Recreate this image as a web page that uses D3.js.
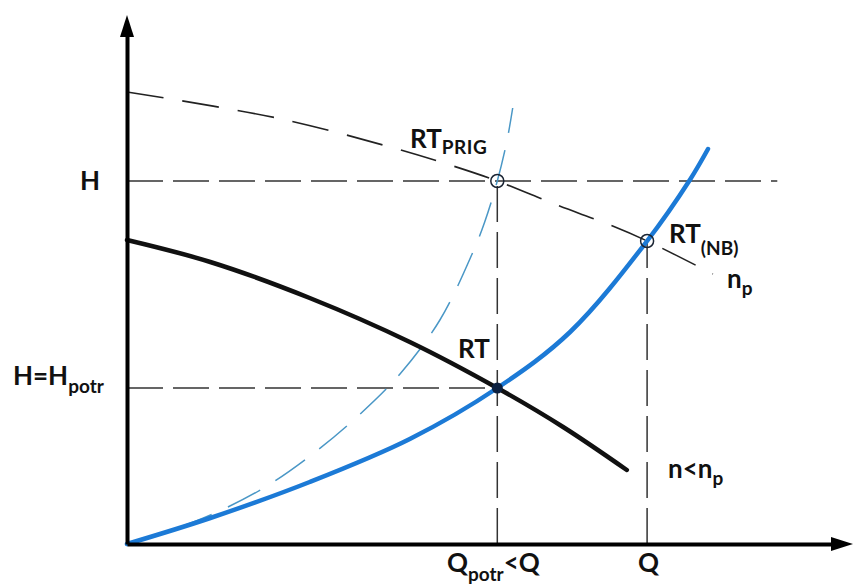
<!DOCTYPE html>
<html>
<head>
<meta charset="utf-8">
<script src="https://cdn.jsdelivr.net/npm/d3@7"></script>
<style>
	body { margin: 0; background: #fff; }
	text { font-family: Lato, "Open Sans", sans-serif; font-weight: 700; fill: #111; }
</style>
</head>
<body>
<div id="chart"></div>
<script>
// operating points (Q, H) in arbitrary units
var qPotr = 5.29, qNb = 7.43;
var hH = 7.26, hPotr = 3.12, hNb = 6.06;

// pump curve at reduced speed n<np (solid black)
var pumpReduced = [[0, 6.08], [1.19, 5.64], [2.61, 4.92], [4.04, 4.04], [5.29, 3.12], [6.23, 2.34], [7.14, 1.48]];
// pump curve at nominal speed np (dashed black)
var pumpNominal = [[0, 9.04], [2.14, 8.52], [3.76, 7.94], [4.57, 7.60], [5.29, 7.26], [6.14, 6.78], [6.90, 6.38], [7.43, 6.06], [8.37, 5.40]];
// system curve (solid blue)
var systemCurve = [[0, 0], [1.19, 0.52], [2.61, 1.24], [4.04, 2.10], [5.29, 3.12], [6.33, 4.24], [7.43, 6.06], [8.04, 7.28], [8.30, 7.90]];
// throttled system curve (dashed blue)
var systemThrottled = [[0, 0], [0.76, 0.34], [1.29, 0.64], [2.0, 1.16], [2.69, 1.84], [3.30, 2.56], [3.90, 3.40], [4.47, 4.48], [4.93, 5.80], [5.11, 6.44], [5.29, 7.26], [5.43, 8.08], [5.51, 8.72]];

var hLineEnd = 9.29;

var width = 854, height = 588;

var x = d3.scaleLinear().domain([0, 10.2]).range([127, 841]);
var y = d3.scaleLinear().domain([0, 10.4]).range([544, 24]);

var svg = d3.select("div#chart").append("svg")
		.attr("width", width)
		.attr("height", height);

var line = d3.line()
		.x(function(d) { return x(d[0]); })
		.y(function(d) { return y(d[1]); })
		.curve(d3.curveCatmullRom.alpha(0.5));

// dashed guide lines
var guides = [
	[[0, hH], [hLineEnd, hH]],
	[[0, hPotr], [qPotr, hPotr]],
	[[qPotr, 0], [qPotr, hH]],
	[[qNb, 0], [qNb, hNb]]
];
svg.selectAll("line.guide")
	.data(guides)
	.enter()
	.append("line")
		.attr("class", "guide")
		.attr("x1", function(d) { return x(d[0][0]); })
		.attr("y1", function(d) { return y(d[0][1]); })
		.attr("x2", function(d) { return x(d[1][0]); })
		.attr("y2", function(d) { return y(d[1][1]); })
		.attr("stroke", "#333")
		.attr("stroke-width", 1.5)
		.attr("stroke-dasharray", "36,10");

svg.append("path")
	.datum(pumpNominal)
	.attr("d", line)
	.attr("fill", "none")
	.attr("stroke", "#222")
	.attr("stroke-width", 1.6)
	.attr("stroke-dasharray", "37,19");

svg.append("path")
	.datum(systemThrottled)
	.attr("d", line)
	.attr("fill", "none")
	.attr("stroke", "#4a97c6")
	.attr("stroke-width", 1.5)
	.attr("stroke-dasharray", "36,18");

svg.append("path")
	.datum(pumpReduced)
	.attr("d", line)
	.attr("fill", "none")
	.attr("stroke", "#111")
	.attr("stroke-width", 4.5)
	.attr("stroke-linecap", "round");

svg.append("path")
	.datum(systemCurve)
	.attr("d", line)
	.attr("fill", "none")
	.attr("stroke", "#1c7ad6")
	.attr("stroke-width", 4.5)
	.attr("stroke-linecap", "round");

// markers
[[qPotr, hH], [qNb, hNb]].forEach(function(p) {
	svg.append("circle")
		.attr("cx", x(p[0]))
		.attr("cy", y(p[1]))
		.attr("r", 6.5)
		.attr("fill", "none")
		.attr("stroke", "#1a2433")
		.attr("stroke-width", 1.5);
});
svg.append("circle")
	.attr("cx", x(qPotr))
	.attr("cy", y(hPotr))
	.attr("r", 5.5)
	.attr("fill", "#0b1f3f");

// axes
svg.append("g")
	.attr("transform", "translate(0," + y(0) + ")")
	.call(d3.axisBottom(x).tickValues([]).tickSizeOuter(0))
	.select(".domain")
		.attr("stroke", "#000")
		.attr("stroke-width", 4);

svg.append("g")
	.attr("transform", "translate(" + x(0) + ",0)")
	.call(d3.axisLeft(y).tickValues([]).tickSizeOuter(0))
	.select(".domain")
		.attr("stroke", "#000")
		.attr("stroke-width", 4);

svg.append("path")
	.attr("d", "M" + x(0) + ",15 L" + (x(0) - 7) + ",37 L" + (x(0) + 7) + ",37 Z")
	.attr("fill", "#000");
svg.append("path")
	.attr("d", "M853," + y(0) + " L831," + (y(0) - 7) + " L831," + (y(0) + 7) + " Z")
	.attr("fill", "#000");

// labels
function label(px, py, main, sub, dy, rest) {
	var t = svg.append("text")
		.attr("x", px)
		.attr("y", py)
		.attr("font-size", 26);
	t.append("tspan").text(main);
	if (sub) {
		t.append("tspan")
			.attr("font-size", 19)
			.attr("dy", dy)
			.text(sub);
	}
	if (rest) {
		t.append("tspan")
			.attr("dy", -dy)
			.text(rest);
	}
	return t;
}

label(80, 190, "H");
label(13, 385, "H=H", "potr", 8);
label(410, 148, "RT", "PRIG", 6).select("tspan:nth-child(2)").attr("letter-spacing", 0.5);
label(669, 243, "RT", "(NB)", 12);
label(727, 288, "n", "p", 7);
label(458, 358, "RT");
label(668, 478, "n<n", "p", 7);
label(447, 572, "Q", "potr", 9, "<Q");
label(638, 572, "Q");
</script>
</body>
</html>
